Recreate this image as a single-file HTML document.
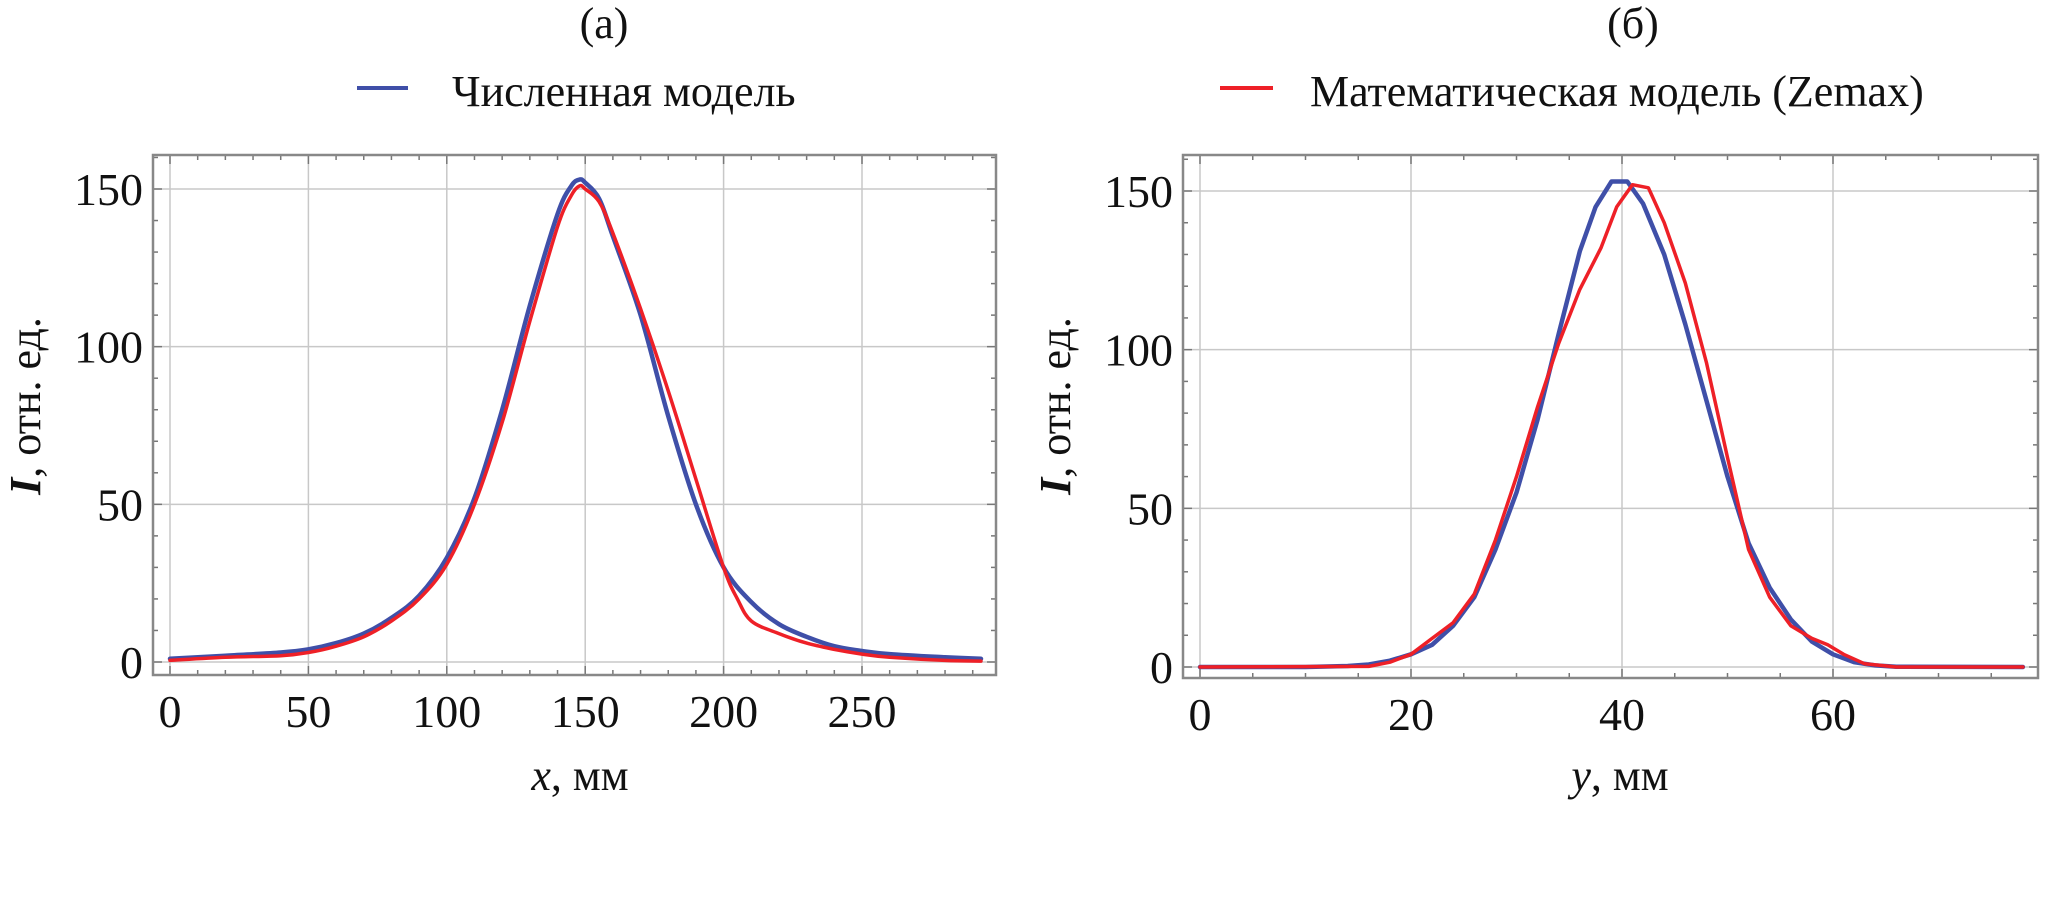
<!DOCTYPE html>
<html><head><meta charset="utf-8"><style>
html,body{margin:0;padding:0;background:#fff;}
svg{display:block;font-family:"Liberation Serif",serif;}
</style></head><body>
<svg id="chart" width="2055" height="924" viewBox="0 0 2055 924"></svg>
<script>
const leftX=[0,20,40,50,60,70,80,90,100,110,120,130,140,145,148,150,155,160,170,180,190,200,210,220,230,240,250,260,280,293];
const leftBlue=[1,2,3,4,6,9,14,21,33,52,80,113,142,151,153,152,147,135,110,78,50,30,19,12,8,5,3.5,2.5,1.5,1];
const leftRedX=[0,20,40,50,60,70,80,90,100,110,120,130,140,145,148,150,155,160,170,180,190,200,205,210,220,230,240,250,260,280,293];
const leftRed=[0.5,1.5,2,3,5,8,13,20,31,50,76,108,138,148,151,150,146,136,112,86,58,30,20,13,9,6,4,2.5,1.5,0.5,0.3];
const rightBlueX=[0,10,14,16,18,20,22,24,26,28,30,32,34,36,37.5,39,40.5,42,44,46,48,50,52,54,56,58,60,62,64,66,78];
const rightBlue=[0,0,0.3,0.8,2,4,7,13,22,37,55,78,105,131,145,153,153,146,130,108,84,60,39,25,15,8,4,1.5,0.5,0.1,0];
const rightRedX=[0,16,18,20,22,24,26,28,30,32,34,36,38,39.5,41,42.5,44,46,48,50,52,54,56,58,59.5,61,63,66,78];
const rightRed=[0,0.2,1.5,4,9,14,23,40,60,82,102,119,132,145,152,151,140,121,96,66,37,22,13,9,7,4,1,0,0];
const leftXTicks=[0,50,100,150,200,250];
const rightXTicks=[0,20,40,60];
const yTicks=[0,50,100,150];

const svg=document.getElementById('chart');
const NS='http://www.w3.org/2000/svg';
function mk(tag,attrs,parent){const e=document.createElementNS(NS,tag);for(const k in attrs)e.setAttribute(k,attrs[k]);(parent||svg).appendChild(e);return e;}

function smoothPath(pts){
  let d='M'+pts[0][0].toFixed(1)+','+pts[0][1].toFixed(1);
  for(let i=0;i<pts.length-1;i++){
    const p0=pts[Math.max(0,i-1)],p1=pts[i],p2=pts[i+1],p3=pts[Math.min(pts.length-1,i+2)];
    const c1=[p1[0]+(p2[0]-p0[0])/6,p1[1]+(p2[1]-p0[1])/6];
    const c2=[p2[0]-(p3[0]-p1[0])/6,p2[1]-(p3[1]-p1[1])/6];
    d+='C'+c1[0].toFixed(1)+','+c1[1].toFixed(1)+' '+c2[0].toFixed(1)+','+c2[1].toFixed(1)+' '+p2[0].toFixed(1)+','+p2[1].toFixed(1);
  }
  return d;
}

function panel(p){
  const g=mk('g',{});
  
  
  const sx=v=>p.x0+v*p.xUnit;
  const sy=v=>p.y0-v*(p.y0-p.y150)/150;
  p.xTicks.forEach(t=>{const l=mk('line',{x1:sx(t),x2:sx(t),y1:p.top,y2:p.bot,stroke:'#c8c8c8','stroke-width':1.5},g);
    });
  yTicks.forEach(t=>{const l=mk('line',{x1:p.left,x2:p.right,y1:sy(t),y2:sy(t),stroke:'#c8c8c8','stroke-width':1.5},g);
    });
  for(let v=0;v<=p.xMax;v+=p.xMinor){const x=sx(v);const maj=p.xTicks.includes(v);const L=maj?9:5;
    mk('line',{x1:x,x2:x,y1:p.bot,y2:p.bot-L,stroke:'#777','stroke-width':1.5},g);
    mk('line',{x1:x,x2:x,y1:p.top,y2:p.top+L,stroke:'#777','stroke-width':1.5},g);}
  for(let v=0;v<=160;v+=10){const y=sy(v);if(y<p.top)continue;const L=(v%50===0)?9:5;
    mk('line',{x1:p.left,x2:p.left+L,y1:y,y2:y,stroke:'#777','stroke-width':1.5},g);
    mk('line',{x1:p.right,x2:p.right-L,y1:y,y2:y,stroke:'#777','stroke-width':1.5},g);}
  const fr=mk('rect',{x:p.left,y:p.top,width:p.right-p.left,height:p.bot-p.top,fill:'none',stroke:'#888','stroke-width':2.5},g);
  
  p.xTicks.forEach(t=>{const e=mk('text',{x:sx(t),y:p.bot+52,'text-anchor':'middle','font-size':46,fill:'#111'},g);e.textContent=t;
    });
  yTicks.forEach(t=>{const e=mk('text',{x:p.left-10,y:sy(t)+16,'text-anchor':'end','font-size':46,fill:'#111'},g);e.textContent=t;
    });
  function line(xs,ys,color,w,name,smooth){
    const pts=xs.map((x,i)=>[sx(x),sy(ys[i])]);
    const d=smooth?smoothPath(pts):pts.map((q,i)=>(i?'L':'M')+q[0].toFixed(1)+','+q[1].toFixed(1)).join('');
    const e=mk('path',{d:d,fill:'none',stroke:color,'stroke-width':w,'stroke-linejoin':'round','stroke-linecap':'round'},g);
    }
  line(p.bx,p.by,'#3f4fa8',4.5,'series-numerical',p.smooth);
  line(p.rx,p.ry,'#ee2027',3.5,'series-zemax',p.smooth);
  const xt=mk('text',{x:p.xtx,y:790,'text-anchor':'middle','font-size':44,fill:'#111'},g);
  xt.innerHTML='<tspan font-style="italic">'+p.xlab+'</tspan>, мм';
  
  const yt=mk('text',{x:0,y:0,'text-anchor':'middle','font-size':44,fill:'#111',transform:`translate(${p.left-113},406) rotate(-90)`},g);
  yt.innerHTML='<tspan font-style="italic" font-weight="bold">I</tspan>, отн. ед.';
  
}
panel({name:'panel-a',left:153,right:996,top:155,bot:675,x0:170,xUnit:2.768,y0:662,y150:189,xTicks:leftXTicks,xMinor:10,xMax:293,
  bx:leftX,by:leftBlue,rx:leftRedX,ry:leftRed,xlab:'x',xtx:580,smooth:true});
panel({name:'panel-b',left:1183,right:2038,top:155,bot:678,x0:1200,xUnit:10.55,y0:667,y150:191,xTicks:rightXTicks,xMinor:5,xMax:78,
  bx:rightBlueX,by:rightBlue,rx:rightRedX,ry:rightRed,xlab:'y',xtx:1620,smooth:false});

function txt(x,y,s,name,anchor){const e=mk('text',{x:x,y:y,'text-anchor':anchor||'middle','font-size':44,fill:'#111'});e.textContent=s;
  return e;}
txt(604,38,'(а)','panel-a-label');
txt(1633,38,'(б)','panel-b-label');
const l1=mk('line',{x1:357,x2:408,y1:88,y2:88,stroke:'#3f4fa8','stroke-width':4});

txt(452,106,'Численная модель','legend-entry-numerical','start');
const l2=mk('line',{x1:1220,x2:1273,y1:88,y2:88,stroke:'#ee2027','stroke-width':4});

txt(1310,106,'Математическая модель (Zemax)','legend-entry-zemax','start');
</script>
</body></html>
